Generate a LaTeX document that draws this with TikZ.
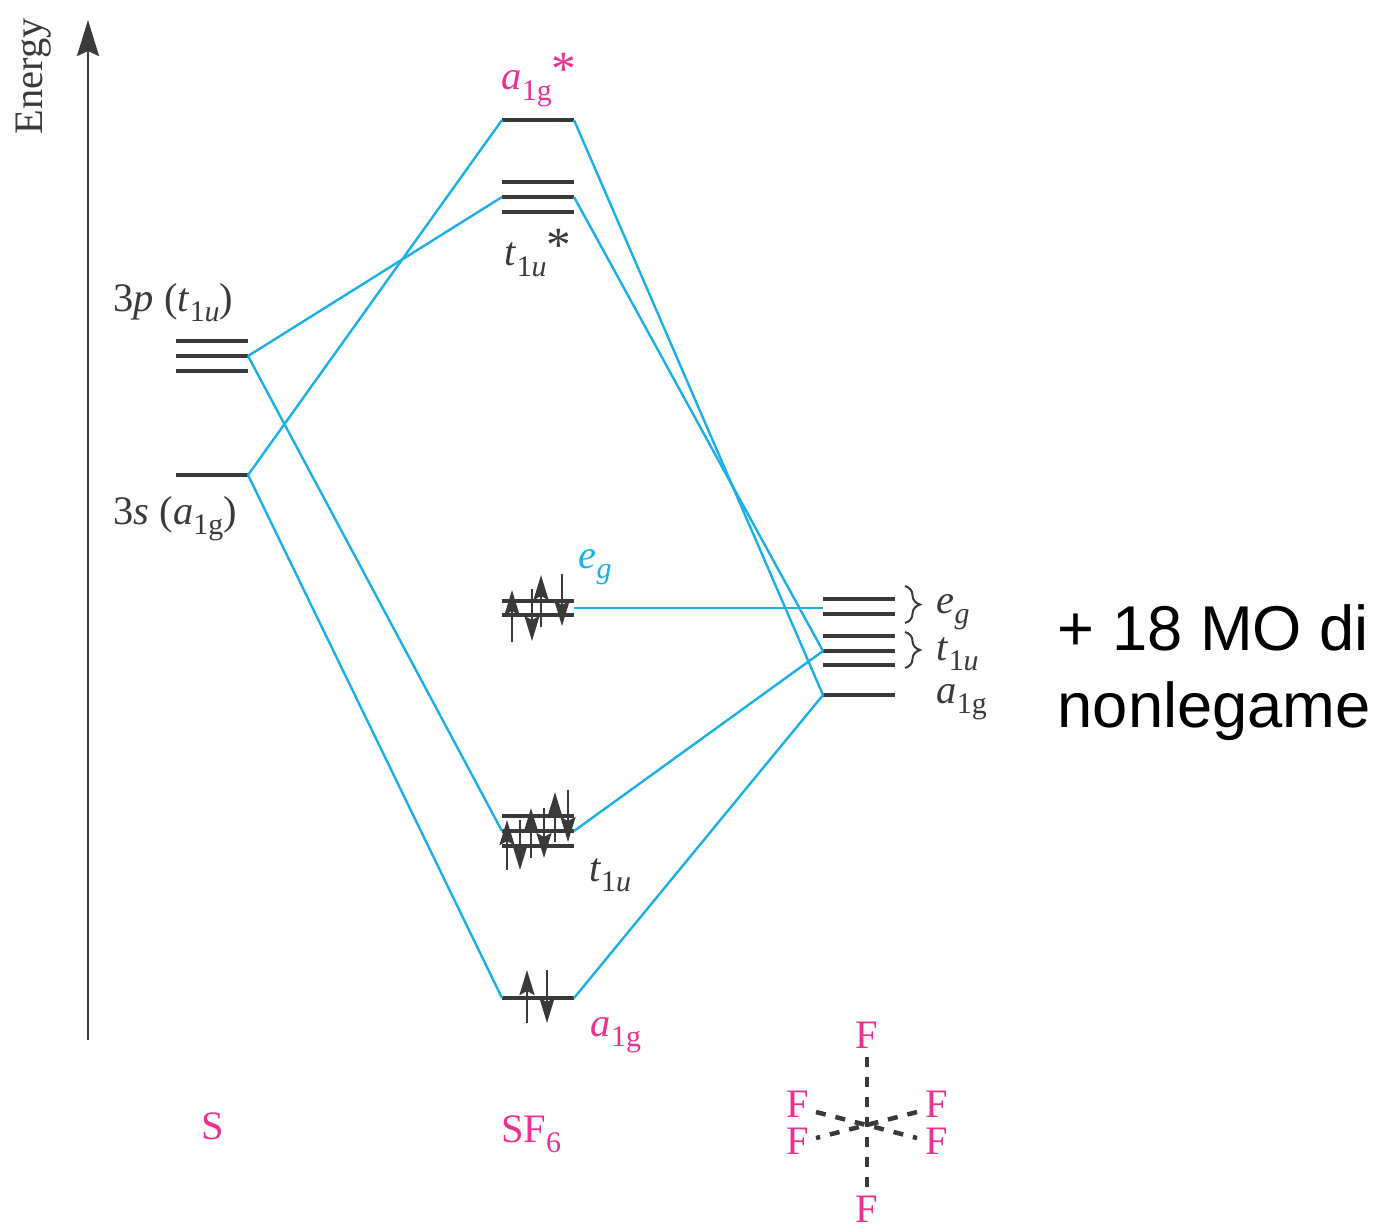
\documentclass[tikz,border=0pt]{standalone}
\usepackage{fontspec}
\setmainfont{Liberation Serif}
\newfontfamily\notefont{Liberation Sans}
\usepackage{xcolor}
\usepackage{tikz}
\usetikzlibrary{arrows.meta, positioning, decorations.pathreplacing}

\definecolor{mopink}{HTML}{EC3192}
\definecolor{moblue}{HTML}{1BB1E6}
\definecolor{modark}{HTML}{3A3A3A}
\newcommand{\orb}[2]{\textit{#1}\raisebox{-0.55ex}{\fontsize{8.5}{10}\selectfont #2}}
\newcommand{\orbstar}{\raisebox{0.22ex}{\fontsize{14}{14}\selectfont *}}

\tikzset{
  level/.style={fill=modark, minimum width=0.72cm, minimum height=0.045cm, inner sep=0pt, outer sep=0pt},
  mo/.style={draw=moblue, line width=0.024cm},
  spin/.style={draw=modark, line width=0.026cm, -{Stealth[length=0.25cm,width=0.15cm,inset=0.04cm]}},
  lab/.style={text=modark, font=\fontsize{11.5}{13}\selectfont, inner sep=0pt},
  pinklab/.style={lab, text=mopink},
  bond/.style={draw=modark, line width=0.045cm, dash pattern=on 0.1cm off 0.1cm},
  bracelab/.style={draw=modark, line width=0.02cm, decorate, decoration={brace, amplitude=0.15cm}},
}

\begin{document}
\begin{tikzpicture}[x=0.01cm, y=-0.01cm]
\useasboundingbox (0,0) rectangle (1376,1226);

% Energy axis
\coordinate (axisbase) at (88,1040);
\coordinate (axistop) at (88,20);
\draw[draw=modark, line width=0.025cm, -{Stealth[length=0.36cm,width=0.22cm,inset=0.05cm]}] (axisbase) -- (axistop);
\node[lab, rotate=90] (energy) at (34,76) {Energy};

% S levels
\foreach \n/\y in {pa/341, pb/356, pc/371, sa/475}
  \node[level] (S\n) at (212,\y) {};

% SF6 levels
\foreach \n/\y in {astar/120, tstara/182, tstarb/197, tstarc/212, ea/601, eb/615, ta/816, tb/831, tc/846, a/998}
  \node[level] (M\n) at (538,\y) {};
\coordinate (Meright) at (574,608);

% F levels
\foreach \n/\y in {ea/599, eb/614, ta/636, tb/651, tc/665, a/695}
  \node[level] (F\n) at (859,\y) {};
\coordinate (Feleft) at (823,608);

% Correlation lines
\draw[mo] (Spb.east) -- (Mtstarb.west);
\draw[mo] (Spb.east) -- (Mtb.west);
\draw[mo] (Ssa.east) -- (Mastar.west);
\draw[mo] (Ssa.east) -- (Ma.west);
\draw[mo] (Mastar.east) -- (Fa.west);
\draw[mo] (Mtstarb.east) -- (Ftb.west);
\draw[mo] (Meright) -- (Feleft);
\draw[mo] (Mtb.east) -- (Ftb.west);
\draw[mo] (Ma.east) -- (Fa.west);

% Electrons
\foreach \x/\a/\b in {512/642/590, 541/627/575, 507/870/820, 531/858/808, 555/842/792, 527/1023/970}
  \draw[spin] (\x,\a) -- (\x,\b);
\foreach \x/\a/\b in {532/589/641, 562/574/626, 520/820/870, 544/808/858, 568/790/842, 547/970/1023}
  \draw[spin] (\x,\a) -- (\x,\b);

% Braces
\draw[bracelab] (905,586) -- (905,623);
\draw[bracelab] (905,632) -- (905,668);

% Level labels
\node[lab, anchor=west] (lbp) at (113,303) {3\textit{p} (\orb{t}{1\textit{u}})};
\node[lab, anchor=west] (lbs) at (113,519) {3\textit{s} (\orb{a}{1g})};
\node[pinklab] (lbastar) at (539,80) {\orb{a}{1g}\orbstar};
\node[lab] (lbtstar) at (538,253) {\orb{t}{1\textit{u}}\orbstar};
\node[pinklab, text=moblue] (lbeg) at (595,567) {\orb{e}{\textit{g}}};
\node[lab] (lbt) at (610,875) {\orb{t}{1\textit{u}}};
\node[pinklab] (lba) at (616,1035) {\orb{a}{1g}};
\node[lab, anchor=west] (lbfe) at (936,612) {\orb{e}{\textit{g}}};
\node[lab, anchor=west] (lbft) at (936,654) {\orb{t}{1\textit{u}}};
\node[lab, anchor=west] (lbfa) at (936,702) {\orb{a}{1g}};

% Bottom labels
\node[pinklab] (lbS) at (213,1126) {S};
\node[pinklab] (lbSF) at (531,1134) {SF\raisebox{-0.55ex}{\fontsize{8.5}{10}\selectfont 6}};

% Octahedron
\node[pinklab] (Ftop) at (867,1035) {F};
\node[pinklab] (Fbot) at (867,1209) {F};
\node[pinklab] (Flu) at (798,1104) {F};
\node[pinklab] (Fld) at (798,1141) {F};
\node[pinklab] (Fru) at (937,1104) {F};
\node[pinklab] (Frd) at (937,1141) {F};
\coordinate (Bta) at (867,1057);
\coordinate (Btb) at (867,1187);
\coordinate (Bua) at (816,1112);
\coordinate (Bub) at (917,1138);
\coordinate (Bda) at (917,1112);
\coordinate (Bdb) at (816,1138);
\draw[bond] (Bta) -- (Btb);
\draw[bond] (Bua) -- (Bub);
\draw[bond] (Bda) -- (Bdb);

% Side note
\node[font=\notefont\fontsize{18}{22}\selectfont, align=left, anchor=north west, inner sep=0pt] (note) at (1057,604) {+ 18 MO di\\nonlegame};
\end{tikzpicture}
\end{document}
